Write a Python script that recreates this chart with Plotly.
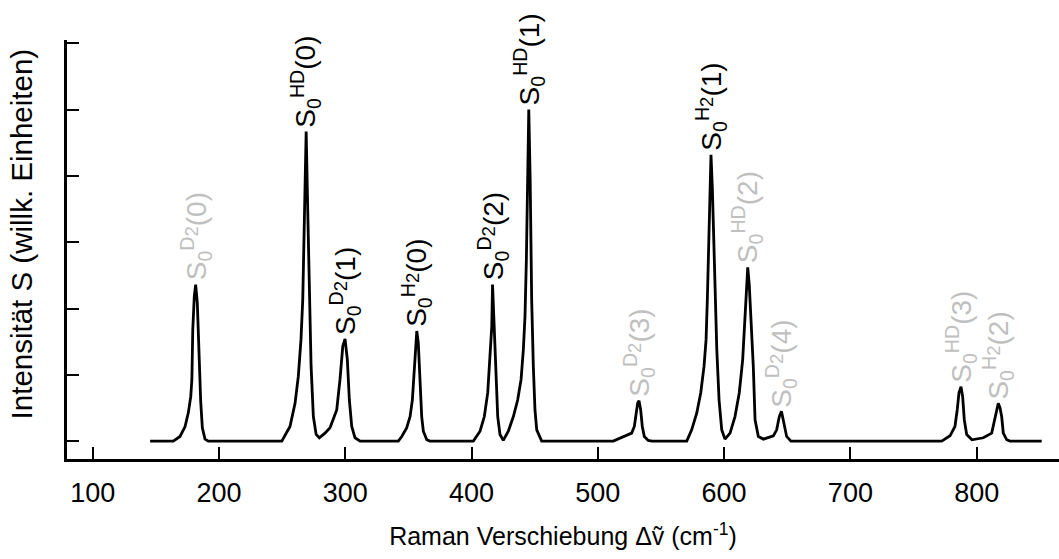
import plotly.graph_objects as go

shift_cm = [
    145.4, 163.8, 169.1, 173.1, 175.7, 177.6, 178.5, 179.2, 180.4, 181.5, 182.8, 183.8, 184.4, 185.5, 186.8, 188.9, 191.5,
    249.7, 256.2, 260.2, 262.8, 264.9, 266.3, 267.6, 269.0, 270.4, 271.5, 272.9, 274.7, 276.9, 279.4,
    283.9, 287.9, 293.2, 295.8, 298.0, 299.8, 301.6, 303.2, 305.1, 307.7, 311.7,
    342.0, 344.7, 348.6, 351.3, 353.1, 354.4, 355.8, 356.6, 357.8, 359.2, 360.5, 361.8, 364.5, 367.1,
    401.4, 406.7, 410.1, 412.8, 414.6, 416.0, 416.6, 418.0, 419.4, 420.7, 422.5, 425.1,
    429.1, 433.1, 436.5, 439.2, 441.0, 442.3, 443.4, 444.3, 445.3, 446.4, 447.6, 448.9, 450.2, 451.6, 455.5,
    512.2, 520.2, 526.8, 528.9, 530.2, 531.5, 532.6, 533.9, 535.2, 536.8, 539.9, 542.9,
    570.4, 574.3, 578.3, 581.5, 584.1, 585.7, 586.7, 587.8, 588.6, 589.6, 590.7, 591.9, 592.8, 594.2, 596.0, 598.1, 600.7,
    604.7, 608.6, 612.0, 614.7, 616.6, 617.7, 618.7, 619.9, 621.7, 623.1, 624.5, 627.1, 631.1, 639.0,
    641.6, 643.7, 645.4, 647.4, 649.5, 652.9,
    772.3, 778.9, 782.8, 784.6, 786.0, 787.6, 788.9, 790.2, 792.1, 796.3,
    805.3, 811.9, 814.5, 815.9, 817.1, 818.5, 819.8, 821.1, 823.8, 826.4, 851.5,
]
intensity = [
    0.00, 0.00, 0.07, 0.22, 0.43, 0.67, 0.93, 1.68, 2.18, 2.36, 2.08, 1.53, 0.93, 0.59, 0.20, 0.03, 0.00,
    0.00, 0.22, 0.57, 0.98, 1.53, 2.13, 3.34, 4.67, 3.34, 2.13, 1.13, 0.37, 0.10, 0.05,
    0.12, 0.20, 0.47, 0.93, 1.43, 1.54, 1.23, 0.62, 0.22, 0.05, 0.00,
    0.00, 0.07, 0.20, 0.37, 0.62, 1.03, 1.48, 1.66, 1.48, 0.88, 0.37, 0.15, 0.02, 0.00,
    0.00, 0.15, 0.37, 0.73, 1.23, 1.73, 2.36, 1.73, 0.88, 0.37, 0.10, 0.01,
    0.15, 0.37, 0.62, 0.93, 1.38, 1.88, 2.74, 3.95, 5.00, 3.95, 2.13, 1.13, 0.47, 0.17, 0.00,
    0.00, 0.06, 0.12, 0.22, 0.42, 0.57, 0.61, 0.47, 0.22, 0.07, 0.01, 0.00,
    0.00, 0.17, 0.42, 0.73, 1.13, 1.53, 2.13, 3.04, 3.80, 4.32, 3.80, 2.89, 2.13, 1.38, 0.62, 0.17, 0.03,
    0.12, 0.37, 0.73, 1.23, 1.88, 2.36, 2.62, 2.36, 1.68, 1.13, 0.32, 0.07, 0.03, 0.08,
    0.17, 0.37, 0.45, 0.25, 0.07, 0.00,
    0.00, 0.08, 0.22, 0.47, 0.73, 0.82, 0.67, 0.32, 0.10, 0.02,
    0.05, 0.12, 0.37, 0.50, 0.57, 0.50, 0.37, 0.12, 0.02, 0.00, 0.00,
]

# Peak labels
peak_pos = [181.5, 269.0, 299.8, 356.6, 416.6, 445.3, 532.6, 589.6, 618.7, 645.4, 787.6, 817.1]
peak_height = [2.36, 4.67, 1.54, 1.66, 2.36, 5.00, 0.61, 4.32, 2.62, 0.45, 0.82, 0.57]
peak_species = ["D2", "HD", "D2", "H2", "D2", "HD", "D2", "H2", "HD", "D2", "HD", "H2"]
peak_j = [0, 0, 1, 0, 2, 1, 3, 1, 2, 4, 3, 2]
peak_strong = [False, True, True, True, True, True, False, True, False, False, False, False]

x_ticks = [100, 200, 300, 400, 500, 600, 700, 800]
y_ticks = [0, 1, 2, 3, 4, 5, 6]

FONT = "Liberation Sans, Arial, Helvetica, sans-serif"
GRAY = "#bfbfbf"

two = '<sub><span style="font-size:135%">2</span></sub>'
species_html = {"D2": "D" + two, "HD": "HD", "H2": "H" + two}

fig = go.Figure()
fig.add_trace(go.Scatter(
    x=shift_cm, y=intensity, mode="lines",
    line=dict(color="black", width=2.8),
    hoverinfo="skip", showlegend=False,
))

for xp, yp, sp, j, strong in zip(peak_pos, peak_height, peak_species, peak_j, peak_strong):
    txt = "S<sub>0</sub><sup>" + species_html[sp] + "</sup>(" + str(j) + ")"
    fig.add_annotation(
        x=xp, y=yp, text=txt, textangle=-90, showarrow=False,
        xanchor="center", yanchor="bottom", yshift=2,
        font=dict(family=FONT, size=28, color="black" if strong else GRAY),
    )

# y-axis title
fig.add_annotation(
    xref="paper", yref="paper", x=0, y=0.536, xanchor="center", yanchor="middle",
    xshift=-46, textangle=-90, showarrow=False,
    text="Intensität S (willk. Einheiten)",
    font=dict(family=FONT, size=29.5, color="black"),
)

fig.update_layout(
    width=1059, height=559,
    margin=dict(l=67, r=0, t=40, b=100),
    paper_bgcolor="white", plot_bgcolor="white",
    font=dict(family=FONT, color="black"),
    showlegend=False,
)
fig.update_xaxes(
    range=[79.6, 865.2], tickvals=x_ticks, ticks="inside", ticklen=12, tickwidth=2,
    tickcolor="black", showline=True, linecolor="black", linewidth=2.5,
    showgrid=False, zeroline=False, tickfont=dict(size=27, family=FONT),
    ticklabelstandoff=8,
    title=dict(text="Raman Verschiebung Δṽ (cm<sup>-1</sup>)", font=dict(size=25, family=FONT), standoff=21),
)
fig.update_yaxes(
    range=[-0.27, 6.05], tickvals=y_ticks, ticks="inside", ticklen=12, tickwidth=2,
    tickcolor="black", showline=True, linecolor="black", linewidth=2.5,
    showgrid=False, zeroline=False, showticklabels=False,
)

fig.write_html("out.html")
